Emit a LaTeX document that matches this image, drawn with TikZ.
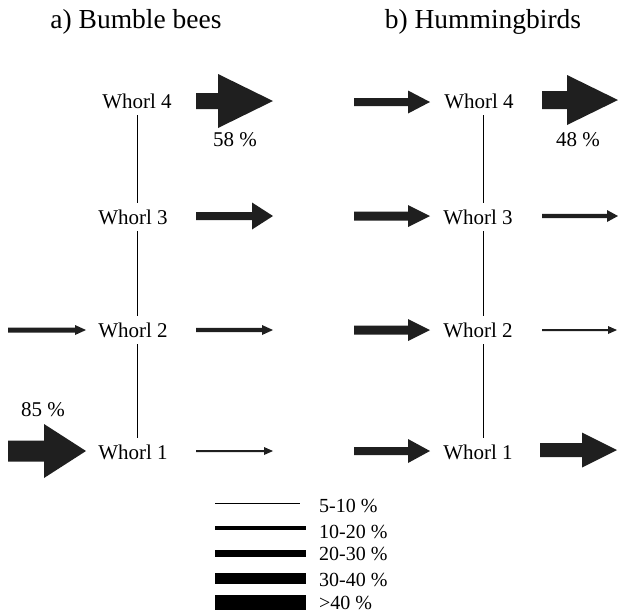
\documentclass[tikz,border=0pt]{standalone}
\usepackage{fontspec}
\setmainfont{Liberation Serif}
\usetikzlibrary{calc}
% #1 start coordinate, #2 tip coordinate, #3 half body, #4 half head, #5 head length
\newcommand{\fatarr}[5]{\fill[flow] ($(#1)+(0,#3)$) -- ($(#2)+(-#5,#3)$) -- ($(#2)+(-#5,#4)$) -- (#2) -- ($(#2)+(-#5,-#4)$) -- ($(#2)+(-#5,-#3)$) -- ($(#1)+(0,-#3)$) -- cycle;}
\begin{document}
\begin{tikzpicture}[x=1pt,y=-1pt,
  flow/.style={fill=black!88},
  whorl/.style={font=\fontsize{21}{23}\selectfont, inner sep=0pt, minimum height=28pt},
  pct/.style={font=\fontsize{21}{23}\selectfont, inner sep=0pt},
  title/.style={font=\fontsize{27.5}{30}\selectfont, inner sep=0pt},
  stem/.style={line width=0.8pt},
  legtext/.style={font=\fontsize{20}{22}\selectfont, anchor=west, inner sep=0pt}]
\useasboundingbox (0,0) rectangle (618,614);

% titles
\node[title] (ta) at (136,22) {a) Bumble bees};
\node[title] (tb) at (483,22) {b) Hummingbirds};

% whorl nodes
\node[whorl] (a4) at (137,101) {Whorl 4};
\node[whorl] (a3) at (133,217) {Whorl 3};
\node[whorl] (a2) at (133,330) {Whorl 2};
\node[whorl] (a1) at (133,452) {Whorl 1};
\node[whorl] (b4) at (479,101) {Whorl 4};
\node[whorl] (b3) at (478,217) {Whorl 3};
\node[whorl] (b2) at (478,330) {Whorl 2};
\node[whorl] (b1) at (478,452) {Whorl 1};

% stems
\coordinate (la) at (137,0);
\coordinate (lb) at (483,0);
\draw[stem] (a4.south -| la) -- (a3.north -| la);
\draw[stem] (a3.south -| la) -- (a2.north -| la);
\draw[stem] (a2.south -| la) -- (a1.north -| la);
\draw[stem] (b4.south -| lb) -- (b3.north -| lb);
\draw[stem] (b3.south -| lb) -- (b2.north -| lb);
\draw[stem] (b2.south -| lb) -- (b1.north -| lb);

% arrow end points
\coordinate (a4o) at (196,101); \coordinate (a4t) at (273,101);
\coordinate (a3o) at (196,216); \coordinate (a3t) at (273,216);
\coordinate (a2o) at (196,330); \coordinate (a2t) at (273,330);
\coordinate (a1o) at (196,451); \coordinate (a1t) at (273,451);
\coordinate (a2s) at (8,330);   \coordinate (a2i) at (86,330);
\coordinate (a1s) at (8,451);   \coordinate (a1i) at (86,451);
\coordinate (b4s) at (354,102); \coordinate (b4i) at (430,102);
\coordinate (b3s) at (354,216); \coordinate (b3i) at (430,216);
\coordinate (b2s) at (354,330); \coordinate (b2i) at (430,330);
\coordinate (b1s) at (354,451); \coordinate (b1i) at (430,451);
\coordinate (b4o) at (542,100); \coordinate (b4t) at (618,100);
\coordinate (b3o) at (542,216); \coordinate (b3t) at (618,216);
\coordinate (b2o) at (542,330); \coordinate (b2t) at (617,330);
\coordinate (b1o) at (540,450); \coordinate (b1t) at (617,450);

% bumble bees
\fatarr{a4o}{a4t}{8}{27}{55}
\fatarr{a3o}{a3t}{4}{13.5}{21}
\fatarr{a2o}{a2t}{2.2}{5}{11}
\fatarr{a1o}{a1t}{1}{4}{9}
\fatarr{a2s}{a2i}{2.5}{5}{11}
\fatarr{a1s}{a1i}{10.5}{27}{42}
% hummingbirds
\fatarr{b4s}{b4i}{4}{11.5}{22}
\fatarr{b3s}{b3i}{4.5}{11}{22}
\fatarr{b2s}{b2i}{4.5}{11}{22}
\fatarr{b1s}{b1i}{4}{12}{22}
\fatarr{b4o}{b4t}{9}{25}{51}
\fatarr{b3o}{b3t}{2.2}{6}{11}
\fatarr{b2o}{b2t}{1}{4}{9}
\fatarr{b1o}{b1t}{7}{17.5}{35}

% percentages
\node[pct] (p58) at (235,140) {58 \%};
\node[pct] (p48) at (578,140) {48 \%};
\node[pct] (p85) at (43,410) {85 \%};

% legend
\draw[line width=1pt]    (215,503) -- (300,503);
\draw[line width=3.5pt]  (215,528) -- (306,528);
\draw[line width=7pt]    (215,553) -- (306,553);
\draw[line width=11pt]   (215,578) -- (306,578);
\draw[line width=15pt]   (215,602) -- (306,602);
\node[legtext] (g1) at (319,506) {5-10 \%};
\node[legtext] (g2) at (319,532) {10-20 \%};
\node[legtext] (g3) at (319,554) {20-30 \%};
\node[legtext] (g4) at (319,580) {30-40 \%};
\node[legtext] (g5) at (319,603) {>40 \%};
\end{tikzpicture}
\end{document}
